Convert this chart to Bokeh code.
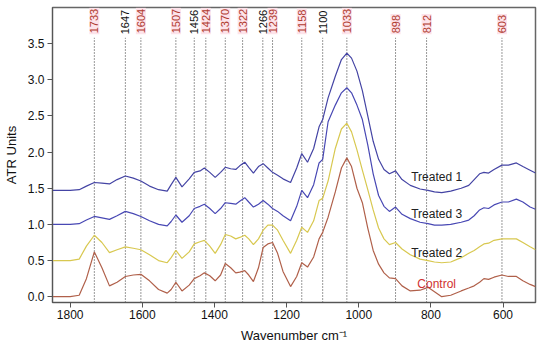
import math
from bokeh.plotting import figure
from bokeh.models import Range1d, FixedTicker
from bokeh.core.properties import value
from bokeh.embed import file_html
from bokeh.resources import INLINE

wavenumber = [1849, 1800, 1775, 1755, 1733, 1712, 1691, 1670, 1647, 1625, 1604, 1580, 1555, 1531, 1520,
              1507, 1490, 1470, 1456, 1440, 1428, 1413, 1398, 1383, 1370, 1355, 1341, 1330, 1316, 1305,
              1292, 1278, 1265, 1252, 1239, 1225, 1210, 1189, 1172, 1158, 1142, 1125, 1110, 1100, 1085,
              1065, 1048, 1033, 1020, 1005, 990, 975, 960, 945, 930, 915, 898, 880, 857, 830,
              808, 790, 770, 745, 716, 695, 680, 665, 653, 640, 625, 603, 585, 563, 545,
              525, 510]

treated1 = [1.47, 1.47, 1.48, 1.53, 1.58, 1.57, 1.56, 1.62, 1.67, 1.64, 1.60, 1.53, 1.48, 1.46, 1.55,
            1.65, 1.52, 1.63, 1.72, 1.74, 1.78, 1.72, 1.65, 1.72, 1.79, 1.77, 1.76, 1.81, 1.86, 1.79,
            1.71, 1.80, 1.84, 1.78, 1.72, 1.68, 1.63, 1.58, 1.78, 1.98, 1.86, 2.05, 2.35, 2.45, 2.75,
            3.05, 3.28, 3.37, 3.30, 3.12, 2.85, 2.50, 2.15, 1.90, 1.76, 1.70, 1.74, 1.62, 1.54, 1.49,
            1.47, 1.45, 1.44, 1.46, 1.50, 1.54, 1.62, 1.70, 1.72, 1.71, 1.76, 1.82, 1.82, 1.85, 1.80,
            1.75, 1.71]

treated3 = [1.00, 1.00, 1.01, 1.06, 1.11, 1.09, 1.07, 1.12, 1.18, 1.15, 1.11, 1.05, 1.00, 0.98, 1.04,
            1.13, 1.03, 1.12, 1.22, 1.25, 1.28, 1.22, 1.15, 1.22, 1.30, 1.29, 1.28, 1.32, 1.37, 1.31,
            1.24, 1.28, 1.33, 1.28, 1.22, 1.18, 1.12, 1.05, 1.25, 1.47, 1.37, 1.55, 1.85, 1.90, 2.42,
            2.65, 2.82, 2.89, 2.82, 2.65, 2.45, 2.10, 1.70, 1.40, 1.25, 1.18, 1.24, 1.14, 1.08, 1.03,
            1.01, 0.99, 0.99, 1.00, 1.03, 1.06, 1.12, 1.20, 1.23, 1.22, 1.27, 1.31, 1.31, 1.35, 1.31,
            1.24, 1.21]

treated2 = [0.50, 0.50, 0.52, 0.70, 0.85, 0.75, 0.61, 0.65, 0.69, 0.67, 0.65, 0.58, 0.50, 0.47, 0.54,
            0.64, 0.53, 0.62, 0.73, 0.76, 0.78, 0.70, 0.60, 0.72, 0.86, 0.84, 0.80, 0.82, 0.85, 0.80,
            0.72, 0.80, 0.92, 0.99, 0.99, 0.92, 0.78, 0.60, 0.78, 0.96, 0.89, 1.05, 1.33, 1.36, 1.60,
            2.05, 2.32, 2.40, 2.28, 2.03, 1.75, 1.48, 1.20, 0.95, 0.80, 0.72, 0.75, 0.66, 0.58, 0.52,
            0.50, 0.48, 0.47, 0.48, 0.54, 0.60, 0.64, 0.69, 0.73, 0.74, 0.78, 0.80, 0.80, 0.80, 0.75,
            0.69, 0.65]

control = [0.00, 0.00, 0.02, 0.25, 0.62, 0.40, 0.15, 0.20, 0.28, 0.30, 0.31, 0.22, 0.10, 0.05, 0.10,
           0.20, 0.08, 0.16, 0.25, 0.29, 0.33, 0.29, 0.22, 0.30, 0.46, 0.40, 0.33, 0.34, 0.36, 0.30,
           0.21, 0.40, 0.68, 0.73, 0.75, 0.60, 0.35, 0.14, 0.28, 0.47, 0.41, 0.55, 0.80, 0.89, 1.10,
           1.45, 1.78, 1.92, 1.80, 1.50, 1.30, 0.95, 0.64, 0.45, 0.33, 0.26, 0.25, 0.15, 0.08, 0.09,
           0.13, 0.07, 0.00, 0.02, 0.08, 0.12, 0.15, 0.20, 0.25, 0.24, 0.27, 0.30, 0.28, 0.28, 0.22,
           0.17, 0.14]

series_names = ["Treated 1", "Treated 3", "Treated 2", "Control"]
series_values = [treated1, treated3, treated2, control]
series_colors = ["#4444a4", "#4848b4", "#d8c850", "#b0604a"]
label_wn = [784, 784, 784, 784]
label_y = [1.65, 1.15, 0.60, 0.18]
label_colors = ["#222222", "#222222", "#222222", "#d03030"]

peak_wn = [1733, 1647, 1604, 1507, 1456, 1424, 1370, 1322, 1266, 1239, 1158, 1100, 1033, 898, 812, 603]
peak_text = ["1733", "1647", "1604", "1507", "1456", "1424", "1370", "1322", "1266", "1239", "1158",
             "1100", "1033", "898", "812", "603"]
peak_red = [True, False, True, True, False, True, True, True, False, True, True, False, True, True, True, True]

x_ticks = [1800, 1600, 1400, 1200, 1000, 800, 600]
y_ticks = [0.0, 0.5, 1.0, 1.5, 2.0, 2.5, 3.0, 3.5]

FONT = "Liberation Sans"

p = figure(width=540, height=346, output_backend="svg", toolbar_location=None,
           x_range=Range1d(1849, 510), y_range=Range1d(-0.08, 4.0),
           min_border_left=42, min_border_right=5, min_border_top=7, min_border_bottom=44)
p.xgrid.visible = False
p.ygrid.visible = False
p.outline_line_color = "#666666"
p.outline_line_width = 1.5

red_wn = [w for w, r in zip(peak_wn, peak_red) if r]
red_tx = [t for t, r in zip(peak_text, peak_red) if r]
blk_wn = [w for w, r in zip(peak_wn, peak_red) if not r]
blk_tx = [t for t, r in zip(peak_text, peak_red) if not r]
p.segment(x0=peak_wn, y0=[-0.08] * len(peak_wn), x1=peak_wn, y1=[3.58] * len(peak_wn),
          line_color="#333333", line_dash="1 2", line_width=1)

p.text(x=red_wn, y=[3.63] * len(red_wn), text=red_tx, angle=math.pi / 2,
       text_align="left", text_baseline="middle", text_font=value(FONT),
       text_font_size="11px", text_color="#b03a2e",
       background_fill_color="#fde3ea", background_fill_alpha=1.0, padding=1)
p.text(x=blk_wn, y=[3.63] * len(blk_wn), text=blk_tx, angle=math.pi / 2,
       text_align="left", text_baseline="middle", text_font=value(FONT),
       text_font_size="11px", text_color="#111111")

for vals, col in zip(series_values, series_colors):
    p.line(wavenumber, vals, line_color=col, line_width=1.2)

p.text(x=label_wn, y=label_y, text=series_names, text_align="center", text_baseline="middle",
       text_font=value(FONT), text_font_size="12px", text_color=label_colors)

for ax in (p.xaxis[0], p.yaxis[0]):
    ax.axis_line_color = "#555555"
    ax.major_tick_line_color = "#555555"
    ax.major_tick_out = 5
    ax.major_tick_in = 0
    ax.minor_tick_line_color = None
    ax.major_label_text_font = FONT
    ax.major_label_text_font_size = "12px"
    ax.major_label_text_color = "#111111"
    ax.axis_label_text_font = FONT
    ax.axis_label_text_font_size = "13px"
    ax.axis_label_text_font_style = "normal"
    ax.axis_label_text_color = "#111111"

p.xaxis.ticker = FixedTicker(ticks=x_ticks)
p.yaxis.ticker = FixedTicker(ticks=y_ticks)
p.yaxis.major_label_overrides = {t: f"{t:.1f}" for t in y_ticks}
p.xaxis.axis_label = "Wavenumber cm⁻¹"
p.yaxis.axis_label = "ATR Units"
p.xaxis.major_label_standoff = 2
p.yaxis.major_label_standoff = 3
p.xaxis.axis_label_standoff = 6
p.yaxis.axis_label_standoff = 6

open("out.html", "w").write(file_html(p, INLINE))
